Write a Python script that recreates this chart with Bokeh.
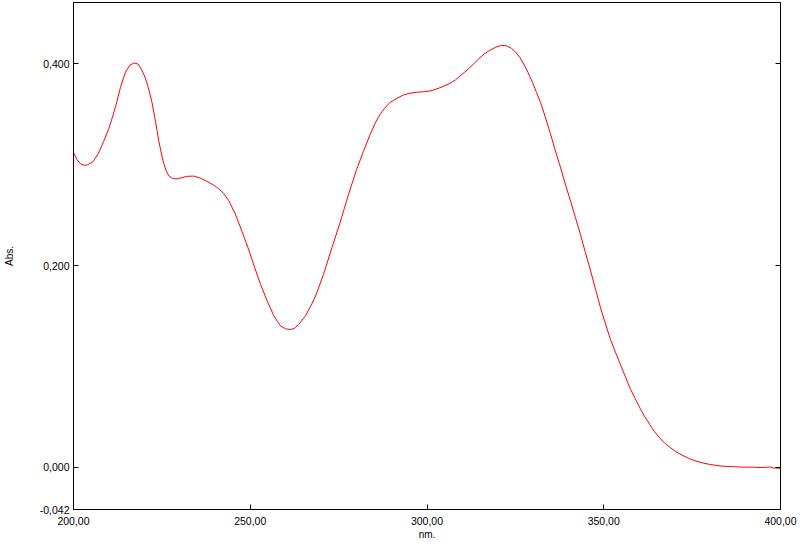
from bokeh.plotting import figure
from bokeh.models import LinearAxis, FixedTicker, Range1d
from bokeh.embed import file_html
from bokeh.resources import INLINE

# Spectrum (wavelength in nm, absorbance)
wavelength = [200.0, 201.0, 202.0, 203.0, 204.0, 205.5, 207.0, 208.5, 210.0, 211.0,
              212.0, 213.3, 214.7, 216.0, 217.2, 218.2, 219.0, 220.0, 220.8, 221.5,
              222.2, 223.2, 224.1, 225.3, 226.2, 227.0, 228.0, 229.0, 230.5, 232.0,
              234.0, 235.9, 237.5, 239.6, 241.0, 242.5, 243.9, 245.8, 247.7, 249.6,
              251.0, 252.9, 254.8, 256.7, 257.7, 258.6, 260.0, 261.4, 262.5, 263.7,
              265.6, 267.2, 268.4, 270.7, 273.1, 275.4, 277.8, 280.1,
              282.0, 283.9, 285.3, 286.7, 288.0, 289.5, 291.5, 293.3, 295.2, 297.1,
              299.0, 300.8, 302.3, 303.7, 305.1, 306.5, 308.0, 309.3, 310.7, 312.1,
              313.6, 315.0, 316.4, 317.8, 319.5, 321.1, 322.5, 323.9, 325.0, 326.3,
              327.5, 328.6, 329.8, 331.0, 332.1, 333.5, 334.9, 336.3, 337.8, 339.2,
              340.6, 342.0, 343.4, 344.8, 346.3, 347.7, 349.1, 350.5, 351.9, 353.3,
              354.7, 356.2, 357.6, 358.9, 360.2, 361.6, 363.0, 364.4, 365.8, 367.2,
              368.6, 370.5, 372.4, 374.2, 376.1, 378.0, 380.0, 383.0, 386.0, 389.0,
              392.0, 395.0, 397.0, 398.0, 400.0]
absorbance = [0.312, 0.305, 0.301, 0.2995, 0.300, 0.303, 0.311, 0.323, 0.336, 0.347,
              0.359, 0.377, 0.392, 0.399, 0.401, 0.400, 0.396, 0.389, 0.381, 0.372,
              0.362, 0.343, 0.324, 0.304, 0.294, 0.289, 0.2865, 0.286, 0.287, 0.2885,
              0.2888, 0.2868, 0.284, 0.280, 0.2765, 0.2715, 0.2645, 0.251, 0.2335, 0.2155,
              0.2005, 0.1815, 0.1648, 0.150, 0.1445, 0.140, 0.1372, 0.1365, 0.1378, 0.1416,
              0.150, 0.1605, 0.169, 0.191, 0.2177, 0.2425, 0.2706, 0.2955,
              0.313, 0.330, 0.341, 0.350, 0.356, 0.3617, 0.366, 0.3692, 0.371, 0.372,
              0.3725, 0.3732, 0.3748, 0.3765, 0.3785, 0.3808, 0.384, 0.388, 0.392, 0.3964,
              0.4015, 0.4063, 0.4105, 0.4136, 0.4168, 0.4185, 0.418, 0.4155, 0.412, 0.4063,
              0.399, 0.3914, 0.382, 0.3716, 0.362, 0.347, 0.331, 0.314, 0.297, 0.280,
              0.264, 0.2475, 0.231, 0.213, 0.1945, 0.176, 0.158, 0.142, 0.1267, 0.114,
              0.102, 0.089, 0.0771, 0.068, 0.0589, 0.050, 0.0424, 0.035, 0.0291, 0.024,
              0.0200, 0.015, 0.0115, 0.0085, 0.006, 0.0042, 0.0027, 0.0012, 0.0005, 0.0001,
              0.0, -0.0004, 0.0002, -0.0008, -0.0010]

x_ticks = [200, 250, 300, 350, 400]
x_tick_labels = ["200,00", "250,00", "300,00", "350,00", "400,00"]
y_ticks = [-0.042, 0.0, 0.2, 0.4]
y_tick_labels = ["-0,042", "0,000", "0,200", "0,400"]
right_ticks = [0.0, 0.2, 0.4]
x_title = "nm."
y_title = "Abs."

FONT = "Liberation Sans"

p = figure(frame_width=707, frame_height=507,
           x_range=Range1d(200, 400), y_range=Range1d(-0.042, 0.461),
           output_backend="svg", toolbar_location=None,
           min_border_left=68, min_border_right=20, min_border_top=2,
           min_border_bottom=30,
           background_fill_color="white", border_fill_color="white")
p.grid.visible = False
p.outline_line_color = "black"
p.outline_line_width = 1

p.line(wavelength, absorbance, line_color="#ff0000", line_width=1)

# bottom axis
xa = p.xaxis[0]
xa.ticker = FixedTicker(ticks=x_ticks)
xa.major_label_overrides = {t: l for t, l in zip(x_ticks, x_tick_labels)}
xa.major_tick_in = 5
xa.major_tick_out = 0
xa.minor_tick_line_color = None
xa.axis_line_color = "black"
xa.major_tick_line_color = "black"
xa.major_label_standoff = 7
xa.major_label_text_font = FONT
xa.major_label_text_font_size = "10.5px"
xa.major_label_text_color = "black"
xa.axis_label = x_title
xa.axis_label_text_font = FONT
xa.axis_label_text_font_size = "10px"
xa.axis_label_text_font_style = "normal"
xa.axis_label_text_color = "black"
xa.axis_label_standoff = 1

# left axis
ya = p.yaxis[0]
ya.ticker = FixedTicker(ticks=y_ticks)
ya.major_label_overrides = {t: l for t, l in zip(y_ticks, y_tick_labels)}
ya.major_tick_in = 5
ya.major_tick_out = 0
ya.minor_tick_line_color = None
ya.axis_line_color = "black"
ya.major_tick_line_color = "black"
ya.major_label_standoff = 4
ya.major_label_text_font = FONT
ya.major_label_text_font_size = "10.5px"
ya.major_label_text_color = "black"
ya.axis_label = y_title
ya.axis_label_text_font = FONT
ya.axis_label_text_font_size = "10px"
ya.axis_label_text_font_style = "normal"
ya.axis_label_text_color = "black"
ya.axis_label_standoff = 22

# right axis: ticks only
ra = LinearAxis(ticker=FixedTicker(ticks=right_ticks))
ra.major_label_overrides = {t: "" for t in right_ticks}
ra.major_label_text_color = None
ra.major_label_text_font_size = "1px"
ra.major_tick_in = 5
ra.major_tick_out = 0
ra.minor_tick_line_color = None
ra.axis_line_color = "black"
ra.major_tick_line_color = "black"
ra.major_label_standoff = 0
p.add_layout(ra, "right")

open("out.html", "w").write(file_html(p, INLINE))
